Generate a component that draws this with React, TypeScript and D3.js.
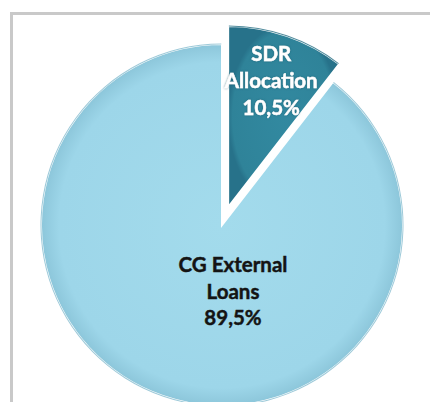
import React from "react";
import * as d3 from "d3";

const categories = ["SDR Allocation", "CG External Loans"];
const values = [10.5, 89.5];
const labelLines = [["SDR", "Allocation", "10,5%"], ["CG External", "Loans", "89,5%"]];
const sliceColors = ["#31869d", "#9fd8ea"];
const textColors = ["#ffffff", "#141414"];

const W = 430;
const H = 402;
const cx = 222;
const cy = 225;
const R = 181;
const explode = [19, 0];

export default function App() {
  const pie = d3
    .pie<number>()
    .sort(null)
    .value((d) => d)
    .startAngle(0)
    .endAngle(2 * Math.PI);
  const arcs = pie(values);
  const arcGen = d3.arc<d3.PieArcDatum<number>>().innerRadius(0).outerRadius(R);

  return (
    <svg
      width={W}
      height={H}
      style={{ position: "fixed", left: 0, top: 0, display: "block", background: "#fff" }}
      fontFamily="Lato, 'Open Sans', sans-serif"
    >
      <defs>
        <radialGradient id="gLight" cx="0.5" cy="0.5" r="0.5">
          <stop offset="0%" stopColor="#a3dbec" />
          <stop offset="90%" stopColor="#9dd6e9" />
          <stop offset="100%" stopColor="#8cc6da" />
        </radialGradient>
        <radialGradient id="gDark" cx="0.5" cy="0.5" r="0.5">
          <stop offset="0%" stopColor="#3289a0" />
          <stop offset="92%" stopColor="#2f8399" />
          <stop offset="100%" stopColor="#27728a" />
        </radialGradient>
        <filter id="tshadow" x="-20%" y="-20%" width="140%" height="140%">
          <feDropShadow dx="0" dy="0" stdDeviation="1.2" floodColor="#1d5d70" floodOpacity="0.7" />
        </filter>
      </defs>
      <rect x={11.5} y={13.5} width={440} height={420} fill="#fff" stroke="#c9c9c9" strokeWidth={3} />
      {arcs.map((a, i) => {
        const mid = (a.startAngle + a.endAngle) / 2;
        const ox = Math.sin(mid) * explode[i];
        const oy = -Math.cos(mid) * explode[i];
        return (
          <g key={categories[i]} transform={`translate(${cx + ox},${cy + oy})`}>
            <path
              d={arcGen(a) || ""}
              fill={i === 0 ? "url(#gDark)" : "url(#gLight)"}
              stroke="#ffffff"
              strokeWidth={2}
              strokeLinejoin="miter"
            />
            <path
              d={d3.arc()({
                innerRadius: R - 0.5,
                outerRadius: R + 0.5,
                startAngle: a.startAngle + 0.004,
                endAngle: a.endAngle - 0.004,
              }) || ""}
              fill={i === 0 ? "#276f84" : "#86bdd0"}
              opacity={0.8}
            />
          </g>
        );
      })}
      {arcs.map((a, i) => {
        const mid = (a.startAngle + a.endAngle) / 2;
        let lx: number;
        let ly: number;
        if (i === 0) {
          const ex = cx + Math.sin(mid) * explode[i];
          const ey = cy - Math.cos(mid) * explode[i];
          const lr = R * 0.735;
          lx = ex + Math.sin(mid) * lr;
          ly = ey - Math.cos(mid) * lr;
        } else {
          lx = cx + 11;
          ly = cy + 66.5;
        }
        const lh = 26.9;
        return (
          <text
            key={"l" + i}
            x={lx}
            y={ly}
            textAnchor="middle"
            fontWeight={700}
            fontSize={20.5}
            fill={textColors[i]}
            stroke={textColors[i]}
            strokeWidth={0.45}
            filter={i === 0 ? "url(#tshadow)" : undefined}
          >
            {labelLines[i].map((t, j) => (
              <tspan key={j} x={lx} y={ly + (j - 1) * lh + 7}>
                {t}
              </tspan>
            ))}
          </text>
        );
      })}
    </svg>
  );
}
